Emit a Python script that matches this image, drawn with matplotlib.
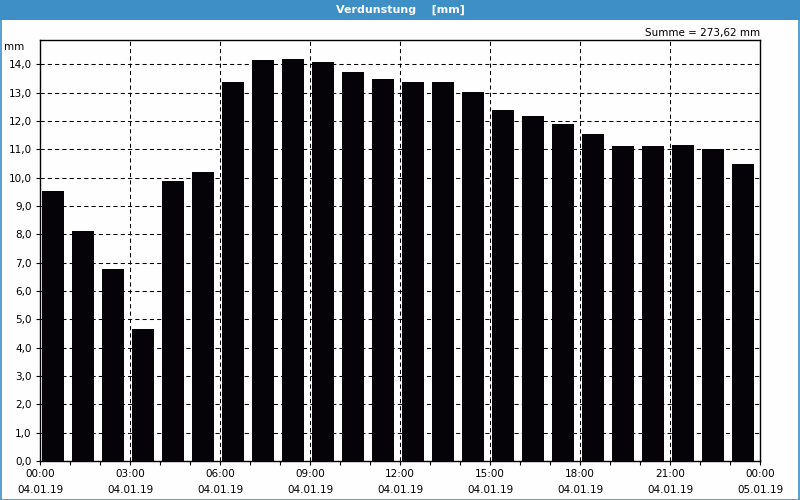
import numpy as np
import matplotlib.pyplot as plt
from matplotlib.patches import Rectangle

plt.rcParams['font.family'] = 'DejaVu Sans'
plt.rcParams['font.size'] = 7.5

###############################
# data: hourly evaporation, 04.01.19
hours = np.arange(24)
werte = [9.53, 8.12, 6.78, 4.66, 9.88, 10.20, 13.38, 14.15,
         14.19, 14.08, 13.73, 13.48, 13.38, 13.38, 13.01, 12.39,
         12.18, 11.90, 11.54, 11.12, 11.12, 11.15, 11.01, 10.48]
xtick_pos = [0, 3, 6, 9, 12, 15, 18, 21, 24]
xtick_labels = ['00:00\n04.01.19', '03:00\n04.01.19', '06:00\n04.01.19',
                '09:00\n04.01.19', '12:00\n04.01.19', '15:00\n04.01.19',
                '18:00\n04.01.19', '21:00\n04.01.19', '00:00\n05.01.19']
yticks = np.arange(0, 15)
titel = 'Verdunstung    [mm]'
summe = 'Summe = 273,62 mm'

bg = '#fdfefd'
blau = '#3d8fc6'

fig = plt.figure(figsize=(8, 5), dpi=100, facecolor=bg)

# title bar + frame
fig.patches.append(Rectangle((0, 0.96), 1, 0.04, transform=fig.transFigure,
                             facecolor=blau, edgecolor='none', zorder=0))
fig.patches.append(Rectangle((0.0008, 0.001), 0.9984, 0.998, transform=fig.transFigure,
                             facecolor='none', edgecolor=blau, lw=1.2, zorder=5))
fig.text(0.5, 0.98, titel, color='white', fontweight='bold', fontsize=8,
         ha='center', va='center')

ax = fig.add_axes([0.05, 0.078, 0.90, 0.842])
ax.set_facecolor(bg)

ax.bar(hours + 0.0667, werte, width=0.7333, align='edge', color='#050308',
       zorder=3)

ax.set_xlim(0, 24)
ax.set_ylim(0, 14.86)
ax.set_xticks(xtick_pos)
ax.set_xticklabels(xtick_labels, linespacing=1.75)
ax.set_xticks(hours, minor=True)
ax.set_yticks(yticks)
ax.set_yticklabels(['%d,0' % v for v in yticks])
ax.tick_params(axis='both', which='both', direction='out', length=3, width=0.8,
               colors='black', pad=3)

for y in yticks[1:]:
    ax.axhline(y, color='black', lw=0.75, ls=(0, (4, 3)), zorder=1)
for x in xtick_pos[1:-1]:
    ax.axvline(x, color='black', lw=0.75, ls=(0, (4, 3)), zorder=1)

for s in ax.spines.values():
    s.set_linewidth(1.0)
    s.set_color('black')

fig.text(0.03, 0.906, 'mm', ha='right', va='center')
fig.text(0.95, 0.934, summe, ha='right', va='center')

plt.savefig('out.png', dpi=100, facecolor=bg)
